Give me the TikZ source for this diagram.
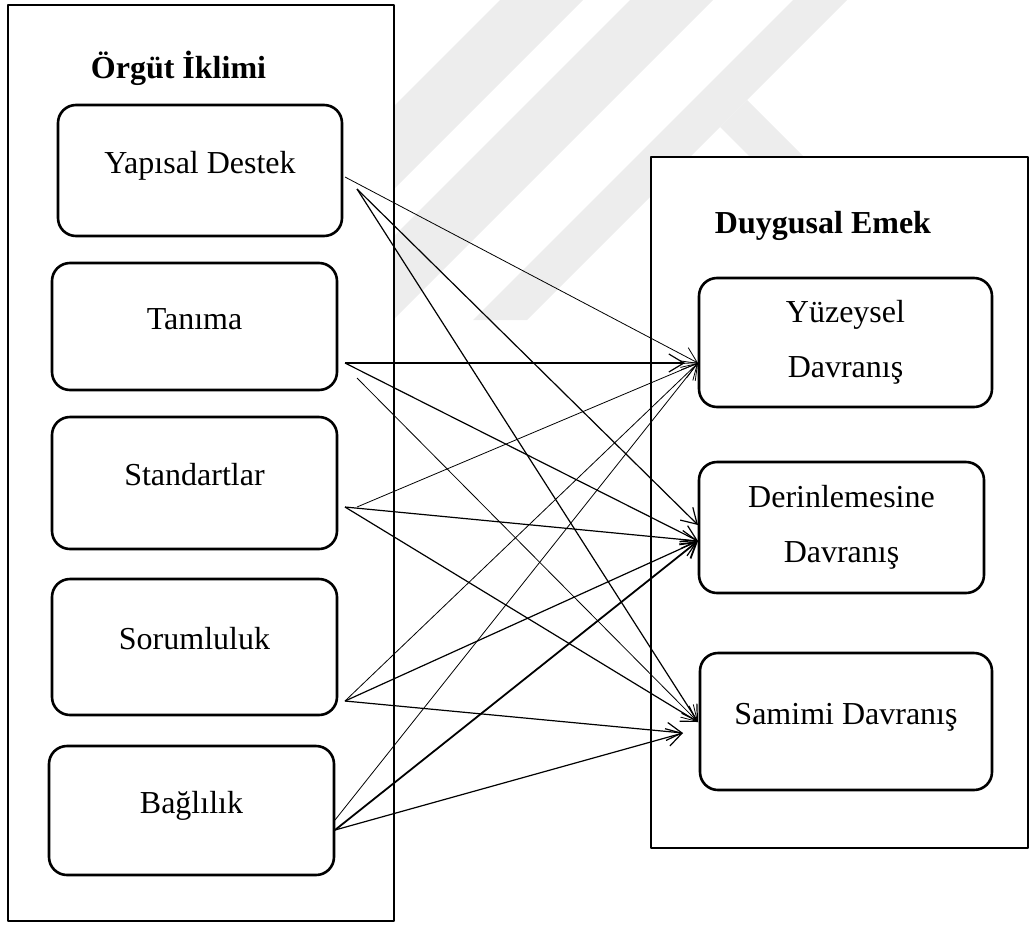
\documentclass[tikz,border=0pt]{standalone}
\usepackage{fontspec}
\setmainfont{Liberation Serif}
\usetikzlibrary{arrows.meta}

\begin{document}
\begin{tikzpicture}[x=1pt, y=-1pt, line join=round,
  kutu/.style={draw, line width=2.6pt, rounded corners=18pt, inner sep=0pt, align=center,
               font=\fontsize{32}{55}\selectfont},
  tekst/.style={text height=22pt, text depth=17pt},
  baslik/.style={anchor=base, inner sep=0pt, font=\fontsize{32}{38}\selectfont\bfseries},
  ok/.style={-{Straight Barb[length=15pt,width=18pt]}, line width=1.2pt},
  ince/.style={line width=0.8pt},
  kalin/.style={line width=1.8pt}]

  %% ════ arka plandaki soluk filigran ════
  \fill[gray!14] (500,0) -- (583,0) -- (263,320) -- (180,320) -- cycle;
  \fill[gray!14] (630,0) -- (713,0) -- (393,320) -- (310,320) -- cycle;
  \fill[gray!14] (793,0) -- (847,0) -- (527,320) -- (473,320) -- cycle;
  \fill[gray!14] (720,127) -- (747,100) -- (817,170) -- (763,170) -- cycle;

  %% ════ çerçeveler ════
  \draw[line width=2.8pt, fill=white] (8,5) rectangle (394,921);
  \draw[line width=2.8pt, fill=white] (651,157) rectangle (1028,848);

  %% ════ başlıklar ════
  \node[baslik] (orgut) at (178.5,78) {Örgüt İklimi};
  \node[baslik] (duygu) at (823,233) {Duygusal Emek};

  %% ════ sol kutular ════
  \node[kutu, tekst, minimum width=284pt, minimum height=131pt] (yapisal) at (200,170.5) {Yapısal Destek};
  \node[kutu, tekst, minimum width=285pt, minimum height=127pt] (tanima)  at (194.5,326.5) {Tanıma};
  \node[kutu, tekst, minimum width=285pt, minimum height=132pt] (standart) at (194.5,483) {Standartlar};
  \node[kutu, tekst, minimum width=285pt, minimum height=136pt] (sorum)   at (194.5,647) {Sorumluluk};
  \node[kutu, tekst, minimum width=285pt, minimum height=129pt] (bagli)   at (191.5,810.5) {Bağlılık};

  %% ════ sağ kutular ════
  \node[kutu, minimum width=293pt, minimum height=129pt] (yuzey) at (845.5,342.5) {Yüzeysel\\Davranış};
  \node[kutu, minimum width=285pt, minimum height=131pt] (derin) at (841.5,527.5) {Derinlemesine\\Davranış};
  \node[kutu, tekst, minimum width=292pt, minimum height=137pt] (samimi) at (846,721.5) {Samimi Davranış};

  %% ════ ok uçları (kutuların kenarında) ════
  \coordinate (yd-a)  at (345,177);
  \coordinate (yd-b)  at (357,189);
  \coordinate (tan-a) at (345,363);
  \coordinate (tan-b) at (357,378);
  \coordinate (std-a) at (345,507);
  \coordinate (std-b) at (357,507);
  \coordinate (sor-a) at (345,701);
  \coordinate (bag-a) at (335,820);
  \coordinate (bag-b) at (335,830);

  \coordinate (yuz-u)  at (698,363);
  \coordinate (yuz-k)  at (685,363);
  \coordinate (der-u)  at (698,525);
  \coordinate (der-a)  at (698,541);
  \coordinate (sam-u)  at (698,722);
  \coordinate (sam-k)  at (683,733);

  %% ════ oklar ════
  \draw[ok, ince]  (yd-a)  -- (yuz-u);
  \draw[ok]        (yd-b)  -- (der-u);
  \draw[ok]        (yd-b)  -- (sam-u);
  \draw[ok]        (tan-a) -- (yuz-k);
  \draw[ok]        (tan-a) -- (der-a);
  \draw[ok, ince]  (tan-b) -- (sam-u);
  \draw[ok, ince]  (std-b) -- (yuz-u);
  \draw[ok]        (std-a) -- (der-a);
  \draw[ok]        (std-a) -- (sam-u);
  \draw[ok, ince]  (sor-a) -- (yuz-u);
  \draw[ok]        (sor-a) -- (der-a);
  \draw[ok]        (sor-a) -- (sam-k);
  \draw[ok, ince]  (bag-a) -- (yuz-u);
  \draw[ok, kalin] (bag-b) -- (der-a);
  \draw[ok]        (bag-b) -- (sam-k);

  % sayfa boyutu sabit
  \pgfresetboundingbox
  \path[use as bounding box] (0,0) rectangle (1030,929);
\end{tikzpicture}
\end{document}
